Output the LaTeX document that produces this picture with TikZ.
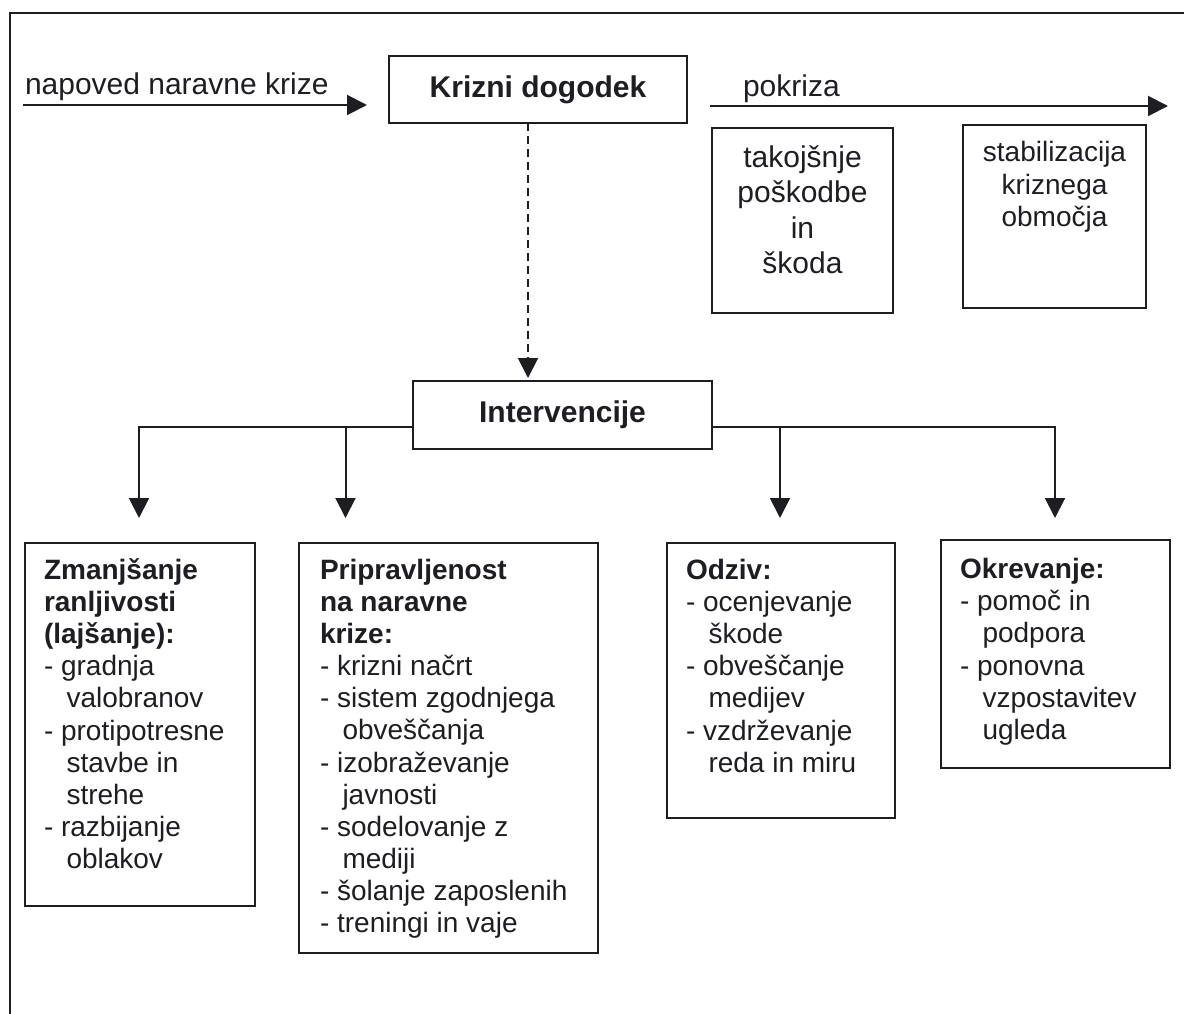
\documentclass[tikz,border=0pt]{standalone}
\usepackage{fontspec}
\setmainfont{Liberation Sans}
\usetikzlibrary{arrows.meta,calc}
\definecolor{ink}{HTML}{1E1E22}
\newcommand{\contline}{\hspace*{22.5pt}}
\begin{document}
\begin{tikzpicture}[x=1pt,y=-1pt,color=ink,line width=2pt,
  box/.style={draw,line width=2pt,inner sep=0pt,outer sep=0pt},
  arr/.style={-{Triangle[length=20pt,width=20pt]},line width=2pt},
  dsh/.style={dash pattern=on 8pt off 5pt},
  big/.style={font=\fontsize{30}{35}\selectfont},
  bigb/.style={font=\fontsize{30}{35}\selectfont\bfseries}]
\useasboundingbox (0,0) rectangle (1184,1014);
% outer frame (cropped)
\draw (10,1014) -- (10,13) -- (1184,13);

% top row
\node[box,bigb,minimum width=298pt,minimum height=67pt] (kd) at (538,89.5) {Krizni dogodek};
\coordinate (n1) at (23,105);
\coordinate (n2) at (367,105);
\draw[arr] (n1) -- (n2);
\node[big,anchor=base west,inner sep=0pt] (napoved) at (24,95) {napoved naravne krize};
\coordinate (p1) at (710,106);
\coordinate (p2) at (1168,106);
\draw[arr] (p1) -- (p2);
\node[big,anchor=base west,inner sep=0pt] (pokriza) at (742,97) {pokriza};

\node[box,anchor=north west] (tk) at (712,128) {\parbox[t][185pt][t]{181pt}{\vspace*{15pt}\centering\fontsize{30}{35.2}\selectfont\strut takojšnje\\poškodbe\\in\\škoda}};
\node[box,anchor=north west] (st) at (963,125) {\parbox[t][183pt][t]{183pt}{\vspace*{14.3pt}\centering\fontsize{28}{32.2}\selectfont\strut stabilizacija\\kriznega\\območja}};

% interventions
\node[box,bigb,minimum width=299pt,minimum height=68pt] (int) at (562.5,415) {Intervencije};
\coordinate (dx) at (528,0);
\draw[arr,dsh] (kd.south -| dx) -- ($(int.north -| dx)+(0,-3)$);

\coordinate (row) at (0,427);
\coordinate (a1) at (139,518);
\coordinate (a2) at (345.5,518);
\coordinate (a3) at (780,518);
\coordinate (a4) at (1055,518);
\draw[arr] (int.west |- row) -| (a1);
\draw[arr] (a2 |- row) -- (a2);
\draw[arr] (int.east |- row) -| (a4);
\draw[arr] (a3 |- row) -- (a3);

% bottom boxes
\node[box,anchor=north west] (zm) at (25,543) {\parbox[t][363pt][t]{230pt}{\vspace*{13.5pt}\fontsize{28}{32.2}\selectfont\raggedright\leftskip=19pt\strut
\textbf{Zmanjšanje}\\
\textbf{ranljivosti}\\
\textbf{(lajšanje):}\\
- gradnja\\
\contline valobranov\\
- protipotresne\\
\contline stavbe in\\
\contline strehe\\
- razbijanje\\
\contline oblakov}};

\node[box,anchor=north west] (pr) at (299,543) {\parbox[t][410pt][t]{299pt}{\vspace*{14pt}\fontsize{28}{32.1}\selectfont\raggedright\leftskip=21pt\strut
\textbf{Pripravljenost}\\
\textbf{na naravne}\\
\textbf{krize:}\\
- krizni načrt\\
- sistem zgodnjega\\
\contline obveščanja\\
- izobraževanje\\
\contline javnosti\\
- sodelovanje z\\
\contline mediji\\
- šolanje zaposlenih\\
- treningi in vaje}};

\node[box,anchor=north west] (od) at (667,543) {\parbox[t][275pt][t]{228pt}{\vspace*{13.5pt}\fontsize{28}{32.2}\selectfont\raggedright\leftskip=19pt\strut
\textbf{Odziv:}\\
- ocenjevanje\\
\contline škode\\
- obveščanje\\
\contline medijev\\
- vzdrževanje\\
\contline reda in miru}};

\node[box,anchor=north west] (ok) at (941,540) {\parbox[t][228pt][t]{229pt}{\vspace*{16pt}\fontsize{28}{32.2}\selectfont\raggedright\leftskip=19pt\strut
\textbf{Okrevanje:}\\
- pomoč in\\
\contline podpora\\
- ponovna\\
\contline vzpostavitev\\
\contline ugleda}};
\end{tikzpicture}
\end{document}
